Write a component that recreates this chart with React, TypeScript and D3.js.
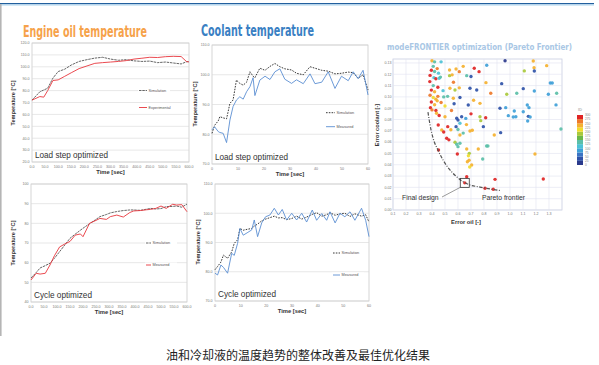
import * as d3 from 'd3'

// ---------- Engine oil temperature, load step ----------
const oilLoadTime = [0, 15, 30, 45, 60, 80, 100, 125, 150, 180, 210, 240, 270, 300, 330, 360, 390, 420, 450, 480, 510, 540, 570, 590, 600]
const oilLoadSim = [72, 75.5, 79, 80.5, 82, 90.5, 96, 98, 101.5, 104.5, 106, 107.3, 108, 106.5, 105.5, 106, 105, 104.5, 104.8, 103.5, 104, 103.2, 102.4, 104.2, 104.5]
const oilLoadMeas = [72, 73.5, 75, 74.5, 80, 88.5, 89, 92, 95, 98.5, 100.7, 102.9, 103.5, 104, 104.5, 105.2, 106.5, 107.2, 108, 107.8, 108.5, 108.8, 108.6, 104.5, 104]
const oilLoadYTicks = [20, 30, 40, 50, 60, 70, 80, 90, 100, 110, 120]
const oilXTicks = [0, 50, 100, 150, 200, 250, 300, 350, 400, 450, 500, 550, 600]

// ---------- Engine oil temperature, cycle ----------
const oilCycleTime = [0, 20, 35, 55, 73, 90, 110, 130, 150, 170, 190, 200, 225, 250, 265, 290, 305, 330, 355, 380, 395, 420, 445, 460, 480, 500, 520, 545, 560, 580, 600]
const oilCycleSim = [52.2, 55, 57.3, 58.5, 59.7, 62.2, 65.6, 69, 72.4, 74.5, 76.5, 77.5, 79.8, 82, 83.4, 84.5, 85.3, 86, 86.5, 86.8, 86.8, 86.6, 87.2, 87.6, 87.3, 87.5, 88.5, 88.6, 88.8, 88.2, 89.8]
const oilCycleMeas = [51.2, 54.6, 54.2, 54.6, 58.8, 63.5, 68, 69.5, 70.8, 74, 74.6, 73.2, 80, 81.5, 82.5, 82, 83.4, 84.2, 83.2, 85.5, 86.3, 86.5, 86.9, 87.1, 87.6, 88.8, 87.6, 89.7, 89.3, 89.5, 85.9]
const oilCycleYTicks = [40, 50, 60, 70, 80, 90, 100]

// ---------- Coolant temperature, load step ----------
const coolLoadTime = [0, 1, 2.4, 3, 4.3, 5.6, 6.9, 8.1, 9.4, 10.7, 12, 13.3, 14.6, 15.8, 16.5, 18.4, 20.4, 22.3, 24.2, 26.1, 28, 30.6, 32.5, 35.1, 37.7, 39.6, 42.2, 44.7, 47.3, 49.8, 52.4, 54.3, 56.2, 58.1, 60]
const coolLoadSim = [80.3, 83, 84.5, 85.9, 85.5, 85.2, 90.4, 91.5, 98.2, 97.1, 96.5, 97.5, 101, 99.5, 99, 102.2, 101.5, 102.8, 103.8, 102.7, 102, 101.6, 100.5, 100, 102.7, 102.2, 101.5, 101.2, 100.3, 100.5, 100.9, 100.7, 98.8, 100, 94.9]
const coolLoadMeas = [81.5, 82.5, 80.9, 80.6, 80.3, 77.2, 84.8, 89.3, 91.5, 92.6, 91.8, 94.3, 96, 99, 93, 98.2, 99.5, 98.4, 101, 102, 98.5, 97.1, 98.3, 97, 100.3, 97, 97.5, 101, 95.4, 99.5, 98, 101, 98.7, 101.5, 93.2]

// ---------- Coolant temperature, cycle ----------
const coolCycleTime = [0, 1, 2.3, 3.3, 4.9, 6.5, 7.5, 8.8, 9.7, 11, 12.5, 14.3, 15.3, 16.6, 18.2, 19.7, 21.4, 23.1, 24.7, 26.2, 27.9, 29.9, 31.8, 33.8, 35.7, 37.9, 39.6, 41.6, 43.5, 44.8, 46.8, 48.7, 50.6, 52.6, 54.5, 57.1, 58.7, 60]
const coolCycleSim = [80.7, 81.8, 83.3, 85.7, 84.6, 86.8, 89.7, 90.9, 94.8, 94.2, 94.5, 94.8, 95.6, 96.3, 97.4, 98, 98.5, 99, 98.4, 98.5, 97.8, 98.2, 99, 98, 98.7, 99.6, 100.2, 99, 99.5, 100.2, 99.3, 99.8, 100, 98.9, 99.8, 99, 99.5, 97]
const coolCycleMeas = [79.5, 78.9, 82.3, 81.5, 79.5, 86.3, 85.6, 89.7, 94.8, 92.5, 93.3, 94.3, 97.7, 92, 96.7, 98.8, 99.4, 101.7, 99.4, 101.3, 97.7, 100, 97.7, 100, 97, 101.1, 97.6, 99.9, 97.6, 100.5, 96.7, 100, 98.8, 100.5, 97.6, 101.7, 97.6, 92]
const coolYTicks = [70, 80, 90, 100, 110]
const coolXTicks = [0, 10, 20, 30, 40, 50, 60]

// ---------- modeFRONTIER scatter: [error oil, error coolant, design ID] ----------
const designs: [number, number, number][] = [
  [0.40, 0.132, 240], [0.42, 0.131, 140], [0.47, 0.131, 115], [0.41, 0.127, 140], [0.395, 0.1235, 290],
  [0.42, 0.1225, 140], [0.385, 0.119, 290], [0.415, 0.117, 115], [0.43, 0.116, 290], [0.383, 0.1135, 290],
  [0.41, 0.110, 140], [0.395, 0.106, 290], [0.42, 0.1045, 240], [0.385, 0.1015, 265], [0.41, 0.0995, 215],
  [0.43, 0.098, 240], [0.395, 0.0955, 290], [0.42, 0.093, 240], [0.388, 0.0905, 290], [0.40, 0.0885, 265],
  [0.43, 0.088, 290], [0.445, 0.1085, 290], [0.455, 0.1165, 115], [0.465, 0.1175, 140], [0.44, 0.125, 265],
  [0.45, 0.121, 115], [0.485, 0.1055, 115], [0.49, 0.100, 140], [0.445, 0.1005, 265], [0.435, 0.0855, 240],
  [0.455, 0.0835, 290], [0.50, 0.0825, 240], [0.44, 0.0965, 240], [0.47, 0.095, 265],
  [0.535, 0.1238, 240], [0.585, 0.1247, 240], [0.61, 0.1223, 265], [0.725, 0.1253, 290], [0.762, 0.1223, 290],
  [0.535, 0.1188, 190], [0.555, 0.1195, 240], [0.667, 0.1188, 140], [0.538, 0.1076, 240], [0.577, 0.1061, 190],
  [0.61, 0.108, 240], [0.692, 0.1076, 40], [0.744, 0.1061, 40], [0.564, 0.0988, 240], [0.615, 0.0994, 40],
  [0.679, 0.0928, 40], [0.59, 0.0811, 40], [0.60, 0.0795, 40], [0.628, 0.0825, 40], [0.66, 0.081, 90],
  [0.615, 0.0767, 115], [0.665, 0.0755, 240], [0.769, 0.0825, 190], [0.775, 0.079, 190], [0.448, 0.0752, 290],
  [0.475, 0.0707, 240], [0.49, 0.069, 290], [0.521, 0.0737, 290], [0.545, 0.071, 240], [0.585, 0.0737, 40],
  [0.60, 0.0712, 140], [0.615, 0.0663, 240], [0.64, 0.068, 140], [0.692, 0.0698, 240], [0.71, 0.0705, 240],
  [0.513, 0.0634, 290], [0.53, 0.062, 290], [0.577, 0.0599, 190], [0.59, 0.0581, 140], [0.615, 0.059, 140],
  [0.60, 0.056, 140], [0.667, 0.0539, 240], [0.45, 0.053, 290], [0.595, 0.0495, 290], [0.687, 0.0501, 190],
  [0.756, 0.0539, 240], [0.672, 0.0427, 240], [0.685, 0.044, 240], [0.68, 0.048, 215], [0.705, 0.0398, 240],
  [0.69, 0.038, 215], [0.79, 0.0451, 140], [0.667, 0.0294, 290], [0.652, 0.024, 290], [0.885, 0.0271, 290],
  [1.256, 0.0274, 290], [0.808, 0.0192, 290], [0.871, 0.0183, 290], [0.82, 0.0566, 140], [0.83, 0.0566, 140],
  [0.70, 0.118, 40], [0.64, 0.127, 240], [0.565, 0.113, 265], [0.52, 0.1005, 140], [0.50, 0.092, 215],
  [0.55, 0.088, 265], [0.57, 0.094, 40], [0.72, 0.097, 240], [0.70, 0.085, 290],
  [0.962, 0.132, 15], [1.179, 0.1317, 240], [0.821, 0.128, 90], [1.11, 0.123, 190], [1.185, 0.1258, 240],
  [1.187, 0.1229, 40], [1.282, 0.1276, 240], [0.815, 0.1126, 240], [0.936, 0.1117, 40], [1.102, 0.1073, 40],
  [1.187, 0.1052, 90], [1.31, 0.1123, 90], [1.325, 0.1123, 90], [0.852, 0.1032, 265], [0.975, 0.1023, 190],
  [1.052, 0.1032, 140], [1.295, 0.1023, 90], [1.359, 0.1032, 140], [1.354, 0.0929, 90], [0.769, 0.0943, 240],
  [0.923, 0.0899, 40], [0.967, 0.0905, 90], [1.133, 0.0928, 90], [1.146, 0.0905, 90], [1.033, 0.0875, 90],
  [0.987, 0.0834, 90], [1.025, 0.0822, 90], [1.045, 0.0825, 90], [1.102, 0.0869, 90], [1.141, 0.0828, 40],
  [1.155, 0.0822, 90], [1.136, 0.0787, 90], [0.813, 0.0816, 290], [0.795, 0.0737, 40], [0.928, 0.0684, 40],
  [0.879, 0.0663, 240], [1.392, 0.0716, 140], [1.192, 0.0495, 240],
]
const paretoFront: [number, number][] = [
  [0.369, 0.0866], [0.385, 0.0752], [0.408, 0.0637], [0.446, 0.053], [0.485, 0.0442], [0.538, 0.0354],
  [0.592, 0.0292], [0.631, 0.0256], [0.692, 0.0221], [0.769, 0.0203], [0.846, 0.0186], [0.923, 0.0172],
]
const finalDesign: [number, number] = [0.652, 0.024]
const errOilTicks = [0.1, 0.2, 0.3, 0.4, 0.5, 0.6, 0.7, 0.8, 0.9, 1.0, 1.1, 1.2, 1.3]
const errCoolTicks = [0, 0.01, 0.02, 0.03, 0.04, 0.05, 0.06, 0.07, 0.08, 0.09, 0.1, 0.11, 0.12, 0.13]
const idPalette = ['#2b3a8c', '#2f52a8', '#3b74c4', '#3fa0d8', '#4cc2d6', '#5bbfa8', '#6bb84a', '#a9c93c', '#f0dc2c', '#f5b12f', '#ee7a2a', '#e02424']
const idTicks = [0, 25, 50, 75, 100, 125, 150, 175, 200, 225, 250, 275, 300]

const FONT = 'Liberation Sans, Arial, sans-serif'
const NARROW = 'Liberation Sans Narrow, DejaVu Sans Condensed, Arial Narrow, sans-serif'

type Box = { x0: number; x1: number; y0: number; y1: number }
type Legend = { lx0: number; lx1: number; ly: [number, number] }

function LinePanel(p: {
  box: Box; xDomain: [number, number]; yDomain: [number, number]; xTicks: number[]; yTicks: number[]
  xFmt: (v: number) => string; yFmt: (v: number) => string; time: number[]; sim: number[]; meas: number[]
  simColor: string; simDash: string; measColor: string; labels: [string, string]; legend: Legend
  note: string; noteLen: number; yTitle: [number, number]
}) {
  const { box } = p
  const x = d3.scaleLinear().domain(p.xDomain).range([box.x0, box.x1])
  const y = d3.scaleLinear().domain(p.yDomain).range([box.y1, box.y0])
  const line = (vals: number[]) => d3.line<number>().x((_, i) => x(p.time[i])).y(d => y(d))(vals) || ''
  const lg = p.legend
  return (
    <g>
      <rect x={box.x0} y={box.y0} width={box.x1 - box.x0} height={box.y1 - box.y0} fill="#fff" stroke="#c4c4c4" strokeWidth={0.7} />
      {p.yTicks.map(t => (
        <g key={t}>
          <line x1={box.x0} x2={box.x1} y1={y(t)} y2={y(t)} stroke="#d6d6d6" strokeWidth={0.6} />
          <text x={box.x0 - 2.5} y={y(t) + 1.3} fontSize={3.6} fill="#777" textAnchor="end" fontFamily={FONT}>{p.yFmt(t)}</text>
        </g>
      ))}
      {p.xTicks.map(t => (
        <text key={t} x={x(t)} y={box.y1 + 5.5} fontSize={3.6} fill="#777" textAnchor="middle" fontFamily={FONT}>{p.xFmt(t)}</text>
      ))}
      {[0, 1].map(i => (
        <g key={i}>
          <rect x={lg.lx0 - 1} y={lg.ly[i] - 2.5} width={32} height={5} fill="#fff" />
          <line x1={lg.lx0} x2={lg.lx1} y1={lg.ly[i]} y2={lg.ly[i]}
            stroke={i === 0 ? p.simColor : p.measColor} strokeWidth={0.9} strokeDasharray={i === 0 ? p.simDash : undefined} />
          <text x={lg.lx1 + 1.5} y={lg.ly[i] + 1.3} fontSize={3.8} fill="#555" fontFamily={FONT}>{p.labels[i]}</text>
        </g>
      ))}
      <path d={line(p.sim)} fill="none" stroke={p.simColor} strokeWidth={0.9} strokeDasharray={p.simDash} />
      <path d={line(p.meas)} fill="none" stroke={p.measColor} strokeWidth={0.9} />
      <text x={box.x0 + 3} y={box.y1 - 4} fontSize={9} fill="#333" fontFamily={FONT} textLength={p.noteLen} lengthAdjust="spacingAndGlyphs">{p.note}</text>
      <text transform={`translate(${p.yTitle[0]},${p.yTitle[1]}) rotate(-90)`} fontSize={5.6} fontWeight="bold" fill="#333" textAnchor="middle" fontFamily={FONT}>Temperature [°C]</text>
      <text x={(box.x0 + box.x1) / 2} y={box.y1 + 12} fontSize={5.8} fontWeight="bold" fill="#333" textAnchor="middle" fontFamily={FONT}>Time [sec]</text>
    </g>
  )
}

function Scatter() {
  const box: Box = { x0: 393, x1: 562, y0: 59, y1: 210 }
  const x = d3.scaleLinear().domain([0.1, 1.4]).range([box.x0, box.x1])
  const y = d3.scaleLinear().domain([0, 0.1335]).range([box.y1, box.y0])
  const color = d3.scaleQuantize<string>().domain([0, 300]).range(idPalette)
  const front = d3.line<[number, number]>().x(d => x(d[0])).y(d => y(d[1])).curve(d3.curveMonotoneX)
  const bar = d3.scaleLinear().domain([0, 300]).range([165, 115])
  const fx = x(finalDesign[0]), fy = y(finalDesign[1])
  return (
    <g fontFamily={FONT}>
      <rect x={box.x0} y={box.y0} width={box.x1 - box.x0} height={box.y1 - box.y0} fill="#fff" stroke="#c9cde0" strokeWidth={0.8} />
      {errOilTicks.map(t => <line key={t} x1={x(t)} x2={x(t)} y1={box.y0} y2={box.y1} stroke="#e0e3f0" strokeWidth={0.6} />)}
      {errCoolTicks.map(t => <line key={t} x1={box.x0} x2={box.x1} y1={y(t)} y2={y(t)} stroke="#e0e3f0" strokeWidth={0.6} />)}
      {errOilTicks.map(t => <text key={t} x={x(t)} y={box.y1 + 5} fontSize={3.6} fill="#777" textAnchor="middle">{d3.format('.1f')(t)}</text>)}
      {errCoolTicks.map(t => <text key={t} x={box.x0 - 1.5} y={y(t) + 1.3} fontSize={3.6} fill="#777" textAnchor="end">{d3.format('.2f')(t)}</text>)}
      {designs.map((d, i) => <circle key={i} cx={x(d[0])} cy={y(d[1])} r={1.7} fill={color(d[2])} opacity={0.92} />)}
      <path d={front(paretoFront) || ''} fill="none" stroke="#555" strokeWidth={1.2} strokeDasharray="3.5,1.5,1,1.5" />
      <rect x={fx - 4.5} y={fy - 4.5} width={9} height={9} fill="none" stroke="#333" strokeWidth={0.8} />
      <line x1={fx - 4.5} y1={fy + 4.5} x2={442} y2={197} stroke="#555" strokeWidth={0.6} />
      <text x={402} y={200} fontSize={6.8} fill="#333">Final design</text>
      <text x={482} y={200} fontSize={6.8} fill="#333">Pareto frontier</text>
      <text x={466} y={224} fontSize={5.8} fontWeight="bold" fill="#333" textAnchor="middle">Error oil [-]</text>
      <text transform="translate(379,125) rotate(-90)" fontSize={5.6} fontWeight="bold" fill="#333" textAnchor="middle">Error coolant [-]</text>
      {idPalette.map((c, i) => {
        const lo = (i * 300) / idPalette.length, hi = ((i + 1) * 300) / idPalette.length
        return <rect key={c} x={577} y={bar(hi)} width={6} height={bar(lo) - bar(hi)} fill={c} />
      })}
      {idTicks.map(t => <text key={t} x={585} y={bar(t) + 1.2} fontSize={3.2} fill="#888">{t}</text>)}
      <text x={580} y={111} fontSize={3.8} fill="#888" textAnchor="middle">ID</text>
    </g>
  )
}

export default function App() {
  return (
    <svg width={599} height={365} style={{ position: 'absolute', left: 0, top: 0 }}>
      <rect width={599} height={365} fill="#fff" />
      <line x1={0} x2={594} y1={3.6} y2={3.6} stroke="#22609e" strokeWidth={1.4} />
      <line x1={0} x2={594} y1={5} y2={5} stroke="#a9d3ee" strokeWidth={1} />
      <line x1={0.8} x2={0.8} y1={4} y2={336} stroke="#b5b5b5" strokeWidth={1.6} />

      <text x={23} y={37} fontSize={16} fontWeight="bold" fill="#f6a24a" fontFamily={NARROW} textLength={124} lengthAdjust="spacingAndGlyphs">Engine oil temperature</text>
      <text x={201} y={36} fontSize={16} fontWeight="bold" fill="#3a80c3" fontFamily={NARROW} textLength={113} lengthAdjust="spacingAndGlyphs">Coolant temperature</text>
      <text transform="translate(387,50) scale(1,1.12)" fontSize={8.3} fontWeight="bold" fill="#a9c7e5" fontFamily={NARROW} textLength={185} lengthAdjust="spacingAndGlyphs">modeFRONTIER optimization (Pareto Frontier)</text>

      <LinePanel box={{ x0: 32, x1: 189, y0: 43, y1: 162 }} xDomain={[0, 600]} yDomain={[20, 120]}
        xTicks={oilXTicks} yTicks={oilLoadYTicks} xFmt={d3.format('.1f')} yFmt={d3.format('.1f')}
        time={oilLoadTime} sim={oilLoadSim} meas={oilLoadMeas} simColor="#555" simDash="2.5,0.8" measColor="#e8353c"
        labels={['Simulation', 'Experimental']} legend={{ lx0: 139, lx1: 147, ly: [90.5, 107.5] }}
        note="Load step optimized" noteLen={73} yTitle={[15, 103]} />
      <LinePanel box={{ x0: 31, x1: 187, y0: 184, y1: 302 }} xDomain={[0, 600]} yDomain={[40, 100]}
        xTicks={oilXTicks} yTicks={oilCycleYTicks} xFmt={d3.format('.1f')} yFmt={d3.format('d')}
        time={oilCycleTime} sim={oilCycleSim} meas={oilCycleMeas} simColor="#555" simDash="2.5,0.8" measColor="#e8353c"
        labels={['Simulation', 'Measured']} legend={{ lx0: 146, lx1: 151, ly: [243, 265] }}
        note="Cycle optimized" noteLen={58} yTitle={[15, 243]} />
      <LinePanel box={{ x0: 212, x1: 368, y0: 45, y1: 164 }} xDomain={[0, 60]} yDomain={[70, 110]}
        xTicks={coolXTicks} yTicks={coolYTicks} xFmt={d3.format('d')} yFmt={d3.format('.1f')}
        time={coolLoadTime} sim={coolLoadSim} meas={coolLoadMeas} simColor="#222" simDash="1.6,1.2" measColor="#5b8fd2"
        labels={['Simulation', 'Measured']} legend={{ lx0: 326, lx1: 335, ly: [112.7, 126.7] }}
        note="Load step optimized" noteLen={73} yTitle={[197, 104]} />
      <LinePanel box={{ x0: 215, x1: 369, y0: 184, y1: 301 }} xDomain={[0, 60]} yDomain={[70, 110]}
        xTicks={coolXTicks} yTicks={coolYTicks} xFmt={d3.format('d')} yFmt={d3.format('.1f')}
        time={coolCycleTime} sim={coolCycleSim} meas={coolCycleMeas} simColor="#222" simDash="1.6,1.2" measColor="#5b8fd2"
        labels={['Simulation', 'Measured']} legend={{ lx0: 333, lx1: 340, ly: [253, 275] }}
        note="Cycle optimized" noteLen={58} yTitle={[200, 242]} />

      <Scatter />

      <text x={298} y={360} fontSize={12} fill="#222" textAnchor="middle" fontFamily="Noto Sans CJK SC, sans-serif">油和冷却液的温度趋势的整体改善及最佳优化结果</text>
    </svg>
  )
}
